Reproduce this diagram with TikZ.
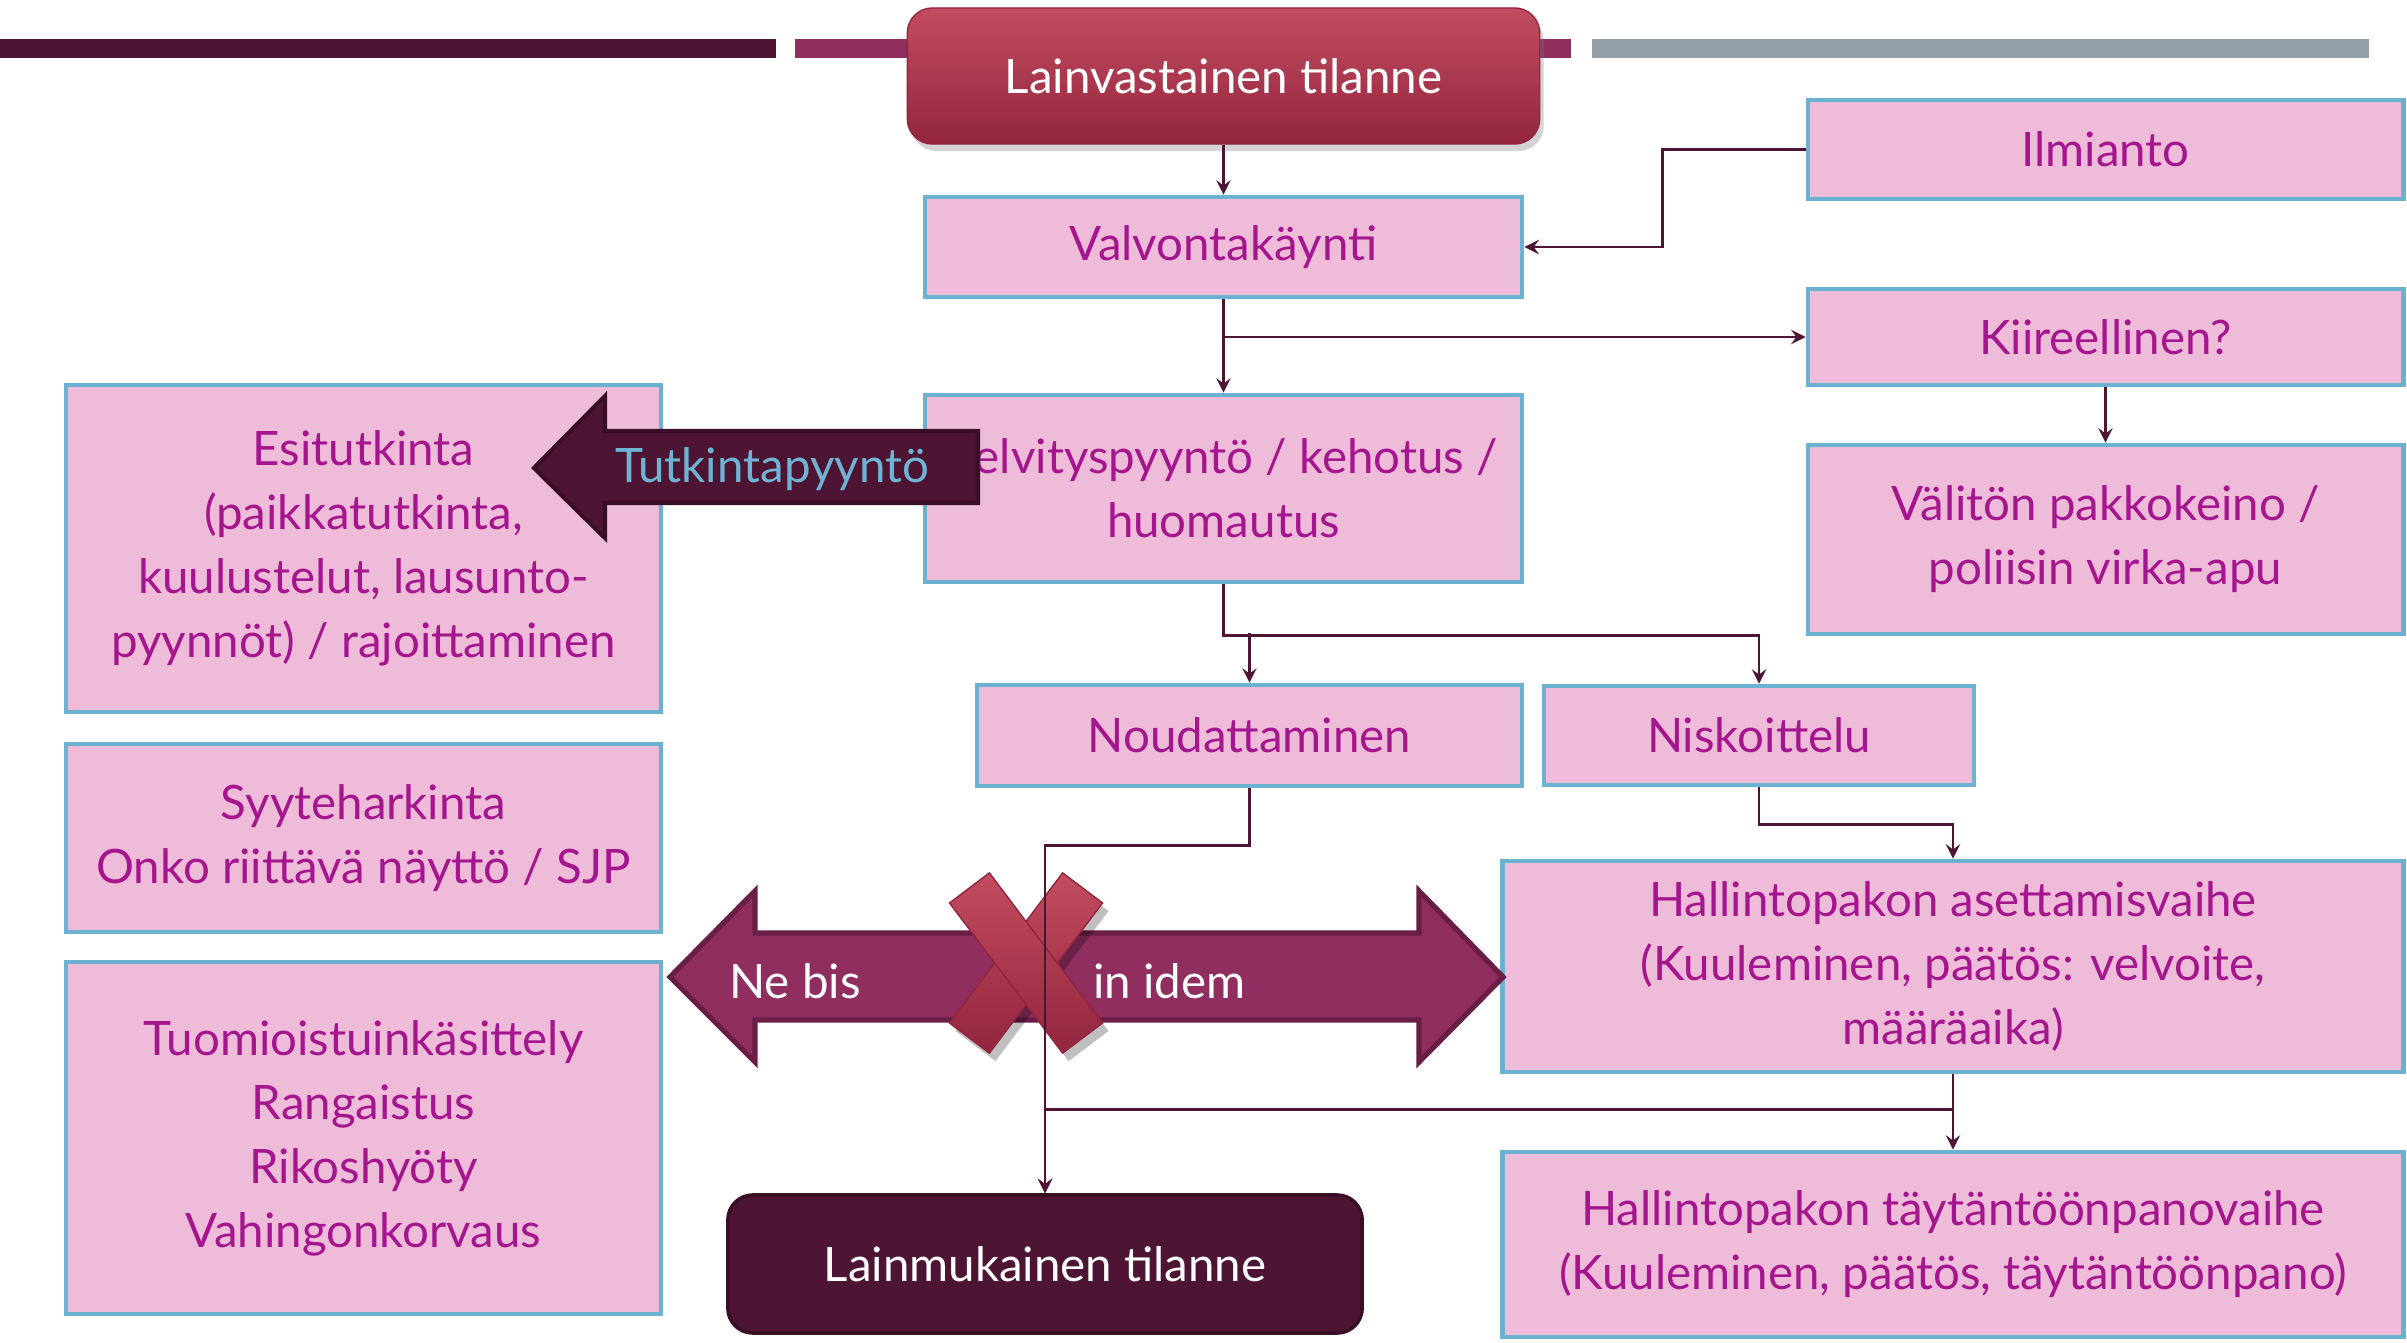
\documentclass[tikz,border=0pt]{standalone}
\usepackage{fontspec}
\setmainfont{Lato}
\usetikzlibrary{shapes.geometric, arrows, shadows}

\definecolor{plum}{HTML}{4E1433}
\definecolor{plumdark}{HTML}{3A0E26}
\definecolor{berry}{HTML}{8F2E5F}
\definecolor{berryline}{HTML}{6A1E46}
\definecolor{slate}{HTML}{949FA8}
\definecolor{boxpink}{HTML}{EEBCD9}
\definecolor{boxblue}{HTML}{6BB2D0}
\definecolor{boxtext}{HTML}{A5168E}
\definecolor{redtop}{HTML}{C34D5F}
\definecolor{redbottom}{HTML}{93253F}
\definecolor{tutktext}{HTML}{6FB5D3}

\tikzstyle{process} = [rectangle, align=center, draw=boxblue, line width=1.3pt, fill=boxpink, text=boxtext, font=\fontsize{13.5}{18.2}\selectfont]
\tikzstyle{state} = [rectangle, rounded corners=0.25cm, align=center, text=white, font=\fontsize{13.5}{18.2}\selectfont]
\tikzstyle{label} = [text=white, font=\fontsize{13.5}{18.2}\selectfont]
\tikzstyle{arrow} = [thick,->,>=stealth, draw=plum]

\begin{document}
\begin{tikzpicture}[x=0.01cm, y=-0.01cm]
    \useasboundingbox (0,0) rectangle (2407,1343);
    % bars on top
    \fill[plum] (0,39) rectangle (776,58);
    \fill[berry] (795,39) rectangle (1571,58);
    \fill[slate] (1592,39) rectangle (2369,58);

    \node (lainv) [state, minimum width=6.32cm, minimum height=1.36cm, top color=redtop, bottom color=redbottom, draw=redbottom, drop shadow={shadow xshift=0.04cm, shadow yshift=-0.07cm, opacity=0.35}] at (1223.5,76) {Lainvastainen tilanne};
    \node (valvonta) [process, minimum width=5.97cm, minimum height=1cm] at (1223.5,247) {Valvontakäynti};
    \node (ilmianto) [process, minimum width=5.95cm, minimum height=0.99cm] at (2105.5,149.5) {Ilmianto};
    \node (kiire) [process, minimum width=5.95cm, minimum height=0.96cm] at (2105.5,337) {Kiireellinen?};
    \node (valiton) [process, minimum width=5.95cm, minimum height=1.89cm] at (2105.5,539.5) {Välitön pakkokeino /\\poliisin virka-apu};
    \node (selvitys) [process, minimum width=5.97cm, minimum height=1.87cm] at (1223.5,488.5) {Selvityspyyntö / kehotus /\\huomautus};
    \node (esitutk) [process, minimum width=5.95cm, minimum height=3.27cm] at (363.5,548.5) {Esitutkinta\\(paikkatutkinta,\\kuulustelut, lausunto-\\pyynnöt) / rajoittaminen};
    \node (syyte) [process, minimum width=5.95cm, minimum height=1.88cm] at (363.5,838) {Syyteharkinta\\Onko riittävä näyttö / SJP};
    \node (tuomio) [process, minimum width=5.95cm, minimum height=3.52cm] at (363.5,1138) {Tuomioistuinkäsittely\\Rangaistus\\Rikoshyöty\\Vahingonkorvaus};
    \node (noud) [process, minimum width=5.45cm, minimum height=1.01cm] at (1249.5,735.5) {Noudattaminen};
    \node (nisko) [process, minimum width=4.3cm, minimum height=0.99cm] at (1759,735.5) {Niskoittelu};
    \node (asetus) [process, minimum width=9cm, minimum height=2.11cm] at (1953,966.5) {Hallintopakon asettamisvaihe\\(Kuuleminen, päätös: velvoite,\\määräaika)};
    \node (taytanto) [process, minimum width=9cm, minimum height=1.85cm] at (1953,1244.5) {Hallintopakon täytäntöönpanovaihe\\(Kuuleminen, päätös, täytäntöönpano)};
    \node (lainm) [state, minimum width=6.34cm, minimum height=1.38cm, fill=plum, draw=plumdark, line width=1pt] at (1045,1264) {Lainmukainen tilanne};

    % block arrows
    \draw[fill=plum, draw=plumdark, line width=1.2pt] (978,431) -- (605,431) -- (605,396) -- (534,468) -- (605,538) -- (605,503) -- (978,503) -- cycle;
    \node (tutk) [label, text=tutktext] at (772,469) {Tutkintapyyntö};
    \draw[fill=berry, draw=berryline, line width=1.5pt] (670,977) -- (755,891) -- (755,933) -- (1419,933) -- (1419,891) -- (1503,977) -- (1419,1062) -- (1419,1020) -- (755,1020) -- (755,1062) -- cycle;
    \node (nebis) [label] at (795,981) {Ne bis};
    \node (idem) [label] at (1169.5,981) {in idem};
    \foreach \ang in {53,-53}
        \fill[black, opacity=0.25, rotate around={\ang:(1032,971)}] (938,946) rectangle (1126,996);
    \foreach \ang in {53,-53}
        \shade[top color=redtop, bottom color=redbottom, draw=redbottom, rotate around={\ang:(1026,963)}] (932,938) rectangle (1120,988);

    \draw [arrow] (lainv) -- (valvonta);
    \draw [arrow] (ilmianto.west) -- ++(-143,0) |- (valvonta.east);
    \draw [arrow] (valvonta) -- (selvitys);
    \draw [arrow] (valvonta.south |- kiire.west) -- (kiire.west);
    \draw [arrow] (kiire) -- (valiton);
    \draw [arrow] (selvitys.south) -- ++(0,51) -| (nisko.north);
    \draw [arrow] (noud.north |- 0,633) -- (noud.north);
    \draw [arrow] (nisko.south) -- ++(0,37) -| (asetus.north);
    \draw [arrow] (noud.south) -- ++(0,57) -| (lainm.north);
    \draw [arrow] (asetus) -- (taytanto);
    \draw [arrow] (asetus.south) -- ++(0,35) -| (lainm.north);
\end{tikzpicture}
\end{document}
